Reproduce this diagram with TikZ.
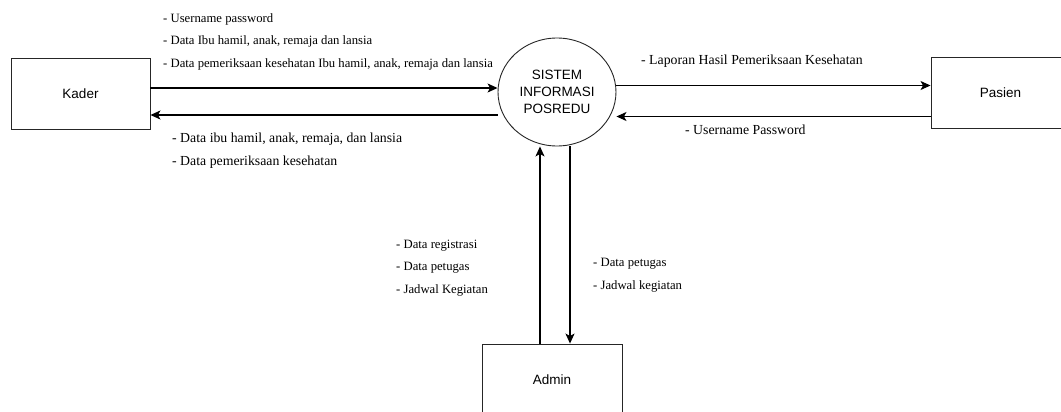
\documentclass[tikz,border=0pt]{standalone}
\usepackage{fontspec}
\setmainfont{Liberation Serif}
\setsansfont{Liberation Sans}
\usetikzlibrary{backgrounds}
\usetikzlibrary{shapes.geometric, arrows.meta}
\tikzstyle{entity} = [rectangle, draw=black!85, line width=0.9pt, minimum width=139pt, minimum height=71pt, inner sep=0pt, font=\sffamily\fontsize{13.5}{16}\selectfont]
\tikzstyle{process} = [ellipse, draw=black!85, line width=0.9pt, minimum width=118pt, minimum height=108pt, inner sep=0pt, align=center, font=\sffamily\fontsize{13.5}{17}\selectfont]
\tikzstyle{arrow} = [line width=1.2pt, -{Stealth[length=10pt, width=9pt, inset=2.5pt]}]

\begin{document}
\begin{tikzpicture}[x=1pt, y=-1pt,
		flow/.style={
			anchor=base west,
			align=left,
			inner sep=0pt,
			font=\fontsize{12.7}{22.5}\selectfont},
		flowbig/.style={
			anchor=base west,
			align=left,
			inner sep=0pt,
			font=\fontsize{13.8}{23}\selectfont}]
		\useasboundingbox (0,0) rectangle (1061,412);

		\node (kader) [entity] at (80.5,93.5) {Kader};
		\node (sys) [process] at (557,92) {SISTEM\\INFORMASI\\POSREDU};
		\node (pasien) [entity] at (1000.5,92.5) {Pasien};
		\node (admin) [entity, minimum width=140pt] at (552,379.5) {Admin};

		\draw [arrow] ([yshift=5.5pt]kader.east) -- ([yshift=5.5pt]kader.east -| sys.west);
		\draw [arrow] ([yshift=-21.5pt]kader.east -| sys.west) -- ([yshift=-21.5pt]kader.east);
		\draw [arrow] ([yshift=7pt]pasien.west -| sys.east) -- ([yshift=7pt]pasien.west);
		\draw [arrow] ([yshift=-24pt]pasien.west) -- ([yshift=-24pt]pasien.west -| sys.east);
		\draw [arrow] ([xshift=-12pt]admin.north) -- ([xshift=-12pt]admin.north |- sys.south);
		\draw [arrow] ([xshift=18pt]admin.north |- sys.south) -- ([xshift=18pt]admin.north);

		\node (kin) [flow] at (163,67.5) {- Username password\\- Data Ibu hamil, anak, remaja dan lansia\\- Data pemeriksaan kesehatan Ibu hamil, anak, remaja dan lansia};
		\node (kout) [flowbig] at (172,165) {- Data ibu hamil, anak, remaja, dan lansia\\- Data pemeriksaan kesehatan};
		\node (pin) [flowbig] at (641,65) {- Laporan Hasil Pemeriksaan Kesehatan};
		\node (pout) [flowbig] at (685,135) {- Username Password};
		\node (ain) [flow] at (396,293) {- Data registrasi\\- Data petugas\\- Jadwal Kegiatan};
		\node (aout) [flow] at (593,289) {- Data petugas\\- Jadwal kegiatan};

		\begin{scope}[on background layer]
			\fill [white] (0,0) rectangle (1061,412);
		\end{scope}

	\end{tikzpicture}
\end{document}
